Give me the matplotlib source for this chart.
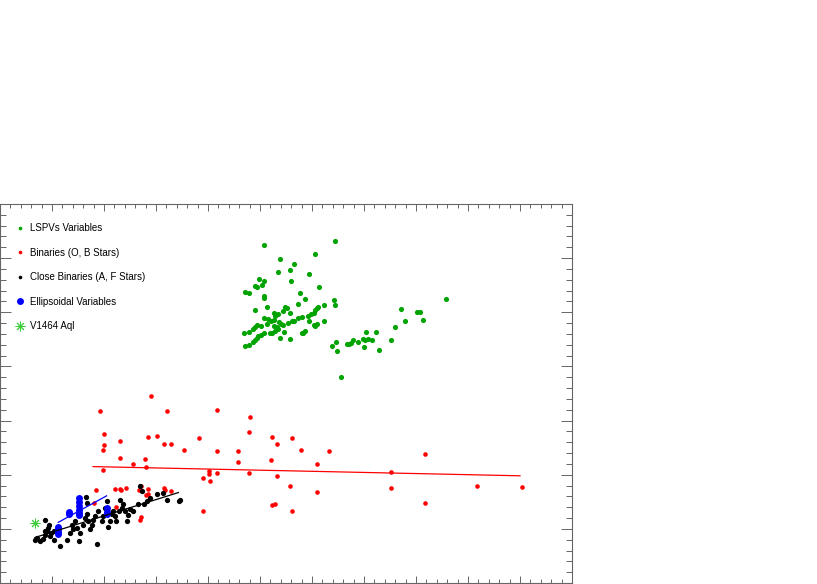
"""
Scatter of LSPVs, binaries and ellipsoidal variables with linear trends
"""

import matplotlib
matplotlib.use('Agg')
import matplotlib.pyplot as plt
from matplotlib.lines import Line2D
from matplotlib.ticker import MultipleLocator

plt.rcParams['font.family'] = ['Liberation Sans', 'DejaVu Sans']

# LSPVs variables (green)
lspv_x = [5.08, 6.45, 6.06, 5.38, 5.65, 5.58, 5.35, 5.95, 5.60, 4.99, 5.08, 5.03, 4.90, 4.94,
          4.71, 4.78, 5.08, 5.08, 5.77, 5.87, 6.13, 6.43, 6.44, 5.74, 6.24, 5.14, 4.90, 5.48,
          5.52, 5.45, 5.26, 5.35, 5.29, 5.58, 6.12, 6.09, 6.06, 6.03, 5.99, 5.92, 5.80, 5.74,
          5.66, 5.61, 5.54, 5.95, 6.24, 6.09, 6.03, 6.06, 5.08, 5.16, 5.21, 5.26, 5.37, 5.40,
          5.44, 5.14, 5.01, 4.94, 4.90, 4.87, 4.70, 4.78, 5.27, 5.32, 5.29, 5.34, 5.47, 5.19,
          5.24, 5.08, 5.02, 4.97, 4.94, 4.90, 4.87, 5.39, 5.58, 5.87, 5.83, 5.80, 4.71, 4.78,
          6.46, 6.39, 6.48, 6.55, 8.58, 7.71, 8.01, 8.08, 7.78, 8.14, 7.60, 7.04, 7.23, 7.51,
          6.99, 7.02, 7.08, 7.16, 6.88, 6.78, 6.75, 6.72, 6.68, 7.00, 7.29]
lspv_y = [6.24, 6.32, 6.08, 5.99, 5.89, 5.78, 5.75, 5.71, 5.57, 5.61, 5.57, 5.51, 5.49, 5.47,
          5.38, 5.35, 5.30, 5.27, 5.35, 5.24, 5.47, 5.23, 5.14, 5.16, 5.14, 5.10, 5.04, 5.09,
          5.07, 5.02, 4.99, 4.96, 4.93, 4.99, 5.10, 5.07, 5.04, 4.99, 4.96, 4.94, 4.91, 4.89,
          4.84, 4.83, 4.81, 4.83, 4.83, 4.79, 4.77, 4.74, 4.89, 4.87, 4.84, 4.85, 4.82, 4.79,
          4.76, 4.78, 4.75, 4.77, 4.72, 4.69, 4.61, 4.64, 4.75, 4.72, 4.65, 4.69, 4.64, 4.61,
          4.62, 4.61, 4.58, 4.56, 4.53, 4.48, 4.46, 4.53, 4.50, 4.65, 4.62, 4.61, 4.37, 4.39,
          4.46, 4.37, 4.28, 3.80, 5.24, 5.06, 5.01, 5.01, 4.83, 4.86, 4.72, 4.63, 4.64, 4.49,
          4.50, 4.48, 4.50, 4.49, 4.46, 4.49, 4.44, 4.41, 4.41, 4.35, 4.30]

# Binaries, O and B stars (red)
ob_x = [2.90, 1.92, 3.22, 4.17, 4.81, 2.00, 2.84, 3.01, 2.30, 2.00, 1.99, 3.83, 3.15, 3.29,
        4.79, 4.18, 3.54, 4.58, 2.30, 2.79, 2.56, 1.99, 2.80, 4.58, 4.01, 4.01, 4.18, 4.79,
        3.90, 4.04, 1.84, 2.21, 2.31, 2.32, 2.43, 2.67, 2.71, 2.84, 3.16, 3.17, 3.29, 2.84,
        2.80, 1.81, 2.24, 3.90, 2.71, 2.70, 5.24, 5.33, 5.62, 5.79, 6.32, 5.21, 6.10, 5.33,
        5.58, 6.10, 5.24, 5.29, 5.62, 7.52, 7.52, 8.17, 8.17, 9.17, 10.03]
ob_y = [3.45, 3.17, 3.17, 3.19, 3.06, 2.75, 2.69, 2.72, 2.62, 2.54, 2.45, 2.67, 2.57, 2.57,
        2.79, 2.44, 2.45, 2.44, 2.30, 2.29, 2.20, 2.09, 2.14, 2.23, 2.06, 2.02, 2.04, 2.04,
        1.94, 1.88, 1.72, 1.74, 1.74, 1.72, 1.75, 1.72, 1.80, 1.74, 1.75, 1.72, 1.69, 1.64,
        1.62, 1.47, 1.41, 1.33, 1.21, 1.17, 2.70, 2.57, 2.67, 2.46, 2.43, 2.27, 2.20, 1.97,
        1.79, 1.68, 1.44, 1.46, 1.33, 2.05, 1.75, 2.39, 1.48, 1.80, 1.77]

# Close binaries, A and F stars (black)
af_x = [0.67, 0.71, 0.77, 0.83, 0.87, 0.90, 0.93, 0.95, 0.87, 0.96, 0.99, 1.03, 1.03, 1.15,
        1.28, 1.35, 1.38, 1.41, 1.44, 1.48, 1.51, 1.54, 1.60, 1.64, 1.67, 1.70, 1.73, 1.76,
        1.79, 1.83, 1.86, 1.89, 1.96, 1.99, 2.02, 2.05, 2.08, 2.12, 2.15, 2.18, 2.21, 2.24,
        2.28, 2.31, 2.34, 2.37, 2.40, 2.44, 2.47, 2.50, 2.56, 2.66, 2.69, 2.73, 2.76, 2.82,
        2.89, 3.01, 3.14, 3.21, 3.46, 3.45, 1.65, 1.67, 0.87]
af_y = [0.79, 0.83, 0.77, 0.82, 0.89, 0.96, 1.02, 1.08, 0.96, 0.87, 0.93, 0.96, 0.80, 0.68,
        0.80, 0.93, 1.08, 0.99, 1.14, 1.02, 0.78, 0.93, 1.08, 1.20, 1.27, 1.14, 0.99, 1.08,
        1.17, 1.24, 0.72, 1.33, 1.14, 1.24, 1.39, 1.51, 1.04, 1.14, 1.27, 1.33, 1.24, 1.14,
        1.33, 1.54, 1.39, 1.45, 1.33, 1.14, 1.25, 1.36, 1.33, 1.45, 1.79, 1.70, 1.45, 1.51,
        1.57, 1.64, 1.67, 1.54, 1.54, 1.51, 1.58, 1.48, 1.17]

# Ellipsoidal variables (blue)
ell_x = [1.12, 1.12, 1.12, 1.12, 1.33, 1.33, 1.51, 1.51, 1.51, 1.51, 1.51, 1.51, 2.06, 2.06, 2.06]
ell_y = [1.04, 0.99, 0.95, 0.91, 1.31, 1.28, 1.57, 1.50, 1.43, 1.35, 1.30, 1.26, 1.38, 1.32, 1.28]

# V1464 Aql
star_x = [0.67]
star_y = [1.10]

# linear trends (end points)
ob_fit_x = [1.79, 10.00]
ob_fit_y = [2.15, 1.98]
af_fit_x = [0.67, 3.43]
af_fit_y = [0.84, 1.67]
ell_fit_x = [1.12, 2.05]
ell_fit_y = [1.12, 1.61]

GREEN = '#00a300'
STAR_GREEN = '#3ccc3c'
AXIS_GRAY = '#666666'

fig = plt.figure(figsize=(8.17, 5.84), dpi=100)
ax = fig.add_axes([0.0, 1 / 584, 572 / 817, 379 / 584])

ax.plot(lspv_x, lspv_y, 'o', color=GREEN, ms=3.7, mew=0)
ax.plot(ob_x, ob_y, 'o', color='red', ms=3.3, mew=0)
ax.plot(af_x, af_y, 'o', color='black', ms=3.8, mew=0)
ax.plot(ell_x, ell_y, 'o', color='blue', ms=5.0, mew=0)
ax.plot(ob_fit_x, ob_fit_y, '-', color='red', lw=0.9)
ax.plot(af_fit_x, af_fit_y, '-', color='black', lw=0.9)
ax.plot(ell_fit_x, ell_fit_y, '-', color='blue', lw=0.9)
ax.plot(star_x, star_y, marker=(8, 2, 0), ls='none', color=STAR_GREEN, ms=7, mew=0.7)

ax.set_xlim(0, 11)
ax.set_ylim(0, 7)
ax.xaxis.set_major_locator(MultipleLocator(1))
ax.xaxis.set_minor_locator(MultipleLocator(0.2))
ax.yaxis.set_major_locator(MultipleLocator(1))
ax.yaxis.set_minor_locator(MultipleLocator(0.2))
ax.tick_params(axis='both', which='both', direction='in', top=True, right=True,
               labelbottom=False, labelleft=False, color=AXIS_GRAY, width=0.7)
ax.tick_params(axis='x', which='major', length=5)
ax.tick_params(axis='x', which='minor', length=2.7)
ax.tick_params(axis='y', which='major', length=8)
ax.tick_params(axis='y', which='minor', length=4.2)
for spine in ax.spines.values():
    spine.set_color(AXIS_GRAY)
    spine.set_linewidth(0.8)

legend_elements = [
    Line2D([0], [0], marker='o', ls='none', color=GREEN, ms=2.6, mew=0, label='LSPVs Variables'),
    Line2D([0], [0], marker='o', ls='none', color='red', ms=2.6, mew=0, label='Binaries (O, B Stars)'),
    Line2D([0], [0], marker='o', ls='none', color='black', ms=2.6, mew=0, label='Close Binaries (A, F Stars)'),
    Line2D([0], [0], marker='o', ls='none', color='blue', ms=5.0, mew=0, label='Ellipsoidal Variables'),
    Line2D([0], [0], marker=(8, 2, 0), ls='none', color=STAR_GREEN, ms=7, mew=0.7, label='V1464 Aql'),
]
ax.legend(handles=legend_elements, loc='upper left', bbox_to_anchor=(15 / 572, 1 - 19 / 379),
          frameon=False, fontsize=7, handlelength=1.0, handletextpad=0.5,
          labelspacing=1.5, borderaxespad=0, borderpad=0)

plt.savefig('out.png', dpi=100)
plt.close()
